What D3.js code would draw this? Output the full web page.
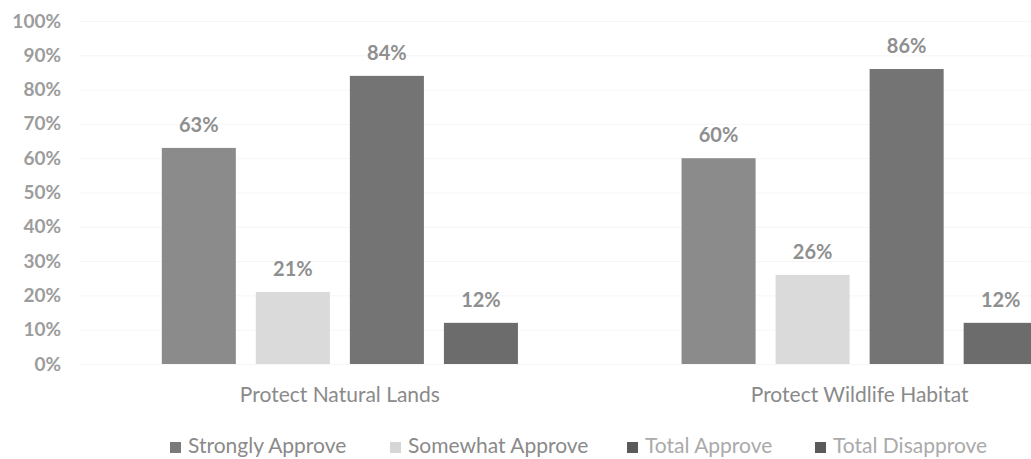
<!DOCTYPE html>
<html>
<head>
<meta charset="utf-8">
<script src="https://cdn.jsdelivr.net/npm/d3@7"></script>
<style>
  html, body { margin: 0; padding: 0; background: #ffffff; }
  svg { display: block; }
  text { font-family: Lato, "Open Sans", sans-serif; }
</style>
</head>
<body>
<svg id="chart" width="1031" height="459"></svg>
<script>
const categories = ["Protect Natural Lands", "Protect Wildlife Habitat"];
const seriesNames = ["Strongly Approve", "Somewhat Approve", "Total Approve", "Total Disapprove"];
const stronglyApprove = [63, 60];
const somewhatApprove = [21, 26];
const totalApprove = [84, 86];
const totalDisapprove = [12, 12];
const yTicks = [0, 10, 20, 30, 40, 50, 60, 70, 80, 90, 100];

const seriesValues = [stronglyApprove, somewhatApprove, totalApprove, totalDisapprove];
const colors = ["#8b8b8b", "#dadada", "#747474", "#6c6c6c"];
const legendSwatch = ["#7a7a7a", "#d6d6d6", "#5a5a5a", "#5a5a5a"];
const legendText = ["#8a8a8a", "#8a8a8a", "#aaaaaa", "#aaaaaa"];

const svg = d3.select("#chart");

const y = d3.scaleLinear().domain([0, 100]).range([364, 21]);
const x0 = d3.scaleBand().domain(categories).range([80, 1119.5]).paddingInner(0).paddingOuter(0);
const x1 = d3.scaleBand().domain(seriesNames).range([0, x0.bandwidth()])
  .paddingInner(20 / 94).paddingOuter(0.87);

// faint gridlines
svg.append("g").selectAll("line").data(yTicks).join("line")
  .attr("x1", 80).attr("x2", 1031)
  .attr("y1", d => y(d) + 0.5).attr("y2", d => y(d) + 0.5)
  .attr("stroke", "#f6f6f6").attr("stroke-width", 1);

// y axis
const yAxis = d3.axisLeft(y).tickValues(yTicks).tickFormat(d => d + "%").tickSize(0).tickPadding(0);
const gy = svg.append("g").attr("transform", "translate(61,0)").call(yAxis);
gy.select(".domain").remove();
gy.selectAll("text").attr("fill", "#9c9c9c").style("font-size", "19px")
  .style("font-weight", "bold")
  .style("font-family", "Lato, 'Open Sans', sans-serif");

// bars
const groups = svg.append("g").selectAll("g").data(categories).join("g")
  .attr("transform", d => `translate(${x0(d)},0)`);

groups.each(function(cat, ci) {
  const g = d3.select(this);
  const rows = seriesNames.map((s, si) => ({ s, si, v: seriesValues[si][ci] }));
  g.selectAll("rect").data(rows).join("rect")
    .attr("x", d => x1(d.s))
    .attr("y", d => y(d.v))
    .attr("width", x1.bandwidth())
    .attr("height", d => y(0) - y(d.v))
    .attr("fill", d => colors[d.si]);
  g.selectAll("text.val").data(rows).join("text")
    .attr("class", "val")
    .attr("x", d => x1(d.s) + x1.bandwidth() / 2)
    .attr("y", d => y(d.v) - 16)
    .attr("text-anchor", "middle")
    .attr("fill", "#8f8f8f")
    .style("font-size", "20px")
    .style("font-weight", "bold")
    .text(d => d.v + "%");
});

// category axis labels
const xAxis = d3.axisBottom(x0).tickSize(0).tickPadding(0);
const gx = svg.append("g").attr("transform", "translate(0,0)").call(xAxis);
gx.select(".domain").remove();
gx.selectAll("text").attr("y", 402).attr("dy", null).attr("fill", "#8a8a8a").style("font-size", "21px")
  .style("font-family", "Lato, 'Open Sans', sans-serif");

// legend
const legendX = [170, 390, 627, 815];
const legend = svg.append("g").selectAll("g").data(seriesNames).join("g")
  .attr("transform", (d, i) => `translate(${legendX[i]},453)`);
legend.append("rect").attr("x", 0).attr("y", -11).attr("width", 11).attr("height", 11)
  .attr("fill", (d, i) => legendSwatch[i]);
legend.append("text").attr("x", 18).attr("y", 0)
  .attr("fill", (d, i) => legendText[i])
  .style("font-size", "21px")
  .text(d => d);
</script>
</body>
</html>
